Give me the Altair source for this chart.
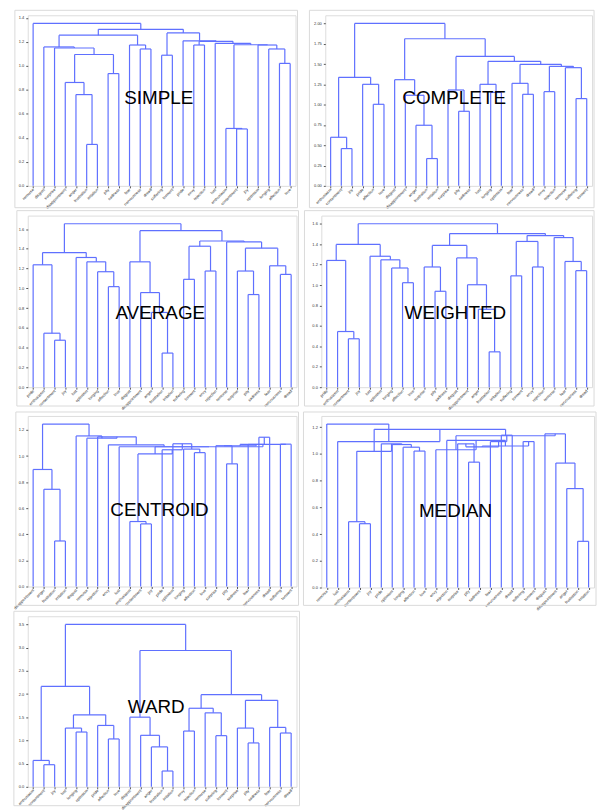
import json
import altair as alt
import pandas as pd

# ---------------------------------------------------------------------------
# Leaf orders and merge lists for each linkage method.
# A merge is (left, right, height); left/right are a leaf name or the index
# of an earlier merge in the same list.
# ---------------------------------------------------------------------------

SIMPLE_LEAVES = ["remorse", "disgust", "surprise", "disappointment", "anger",
                 "frustration", "irritation", "pity", "sadness", "fear",
                 "nervousness", "dread", "suffering", "torment", "pride", "envy",
                 "rejection", "lust", "enthusiasm", "contentment", "joy",
                 "optimism", "longing", "affection", "love"]
SIMPLE_MERGES = [
    ("frustration", "irritation", 0.345),   # 0
    ("anger", 0, 0.760),                    # 1
    ("disappointment", 1, 0.861),           # 2
    ("pity", "sadness", 0.935),             # 3
    (2, 3, 1.094),                          # 4
    ("surprise", 4, 1.148),                 # 5
    ("disgust", 5, 1.157),                  # 6
    ("nervousness", "dread", 1.140),        # 7
    ("fear", 7, 1.173),                     # 8
    (6, 8, 1.255),                          # 9
    ("suffering", "torment", 1.088),        # 10
    ("envy", "rejection", 1.173),           # 11
    ("contentment", "joy", 0.474),          # 12
    ("enthusiasm", 12, 0.478),              # 13
    ("affection", "love", 1.020),           # 14
    ("longing", 14, 1.140),                 # 15
    ("optimism", 15, 1.173),                # 16
    (13, 16, 1.175),                        # 17
    ("lust", 17, 1.187),                    # 18
    (11, 18, 1.204),                        # 19
    ("pride", 19, 1.208),                   # 20
    (10, 20, 1.274),                        # 21
    (9, 21, 1.304),                         # 22
    ("remorse", 22, 1.353),                 # 23
]

COMPLETE_LEAVES = ["enthusiasm", "contentment", "joy", "pride", "affection", "love",
                   "disgust", "disappointment", "anger", "frustration", "irritation",
                   "surprise", "pity", "sadness", "lust", "longing", "optimism",
                   "fear", "nervousness", "dread", "envy", "rejection", "remorse",
                   "suffering", "torment"]
COMPLETE_MERGES = [
    ("contentment", "joy", 0.459),          # 0
    ("enthusiasm", 0, 0.598),               # 1
    ("affection", "love", 1.004),           # 2
    ("pride", 2, 1.250),                    # 3
    (1, 3, 1.336),                          # 4
    ("frustration", "irritation", 0.336),   # 5
    ("anger", 5, 0.746),                    # 6
    ("disappointment", 6, 1.115),           # 7
    ("disgust", 7, 1.307),                  # 8
    ("pity", "sadness", 0.918),             # 9
    ("surprise", 9, 1.180),                 # 10
    ("longing", "optimism", 1.150),         # 11
    ("lust", 11, 1.250),                    # 12
    ("nervousness", "dread", 1.127),        # 13
    ("fear", 13, 1.262),                    # 14
    ("envy", "rejection", 1.160),           # 15
    ("suffering", "torment", 1.074),        # 16
    ("remorse", 16, 1.455),                 # 17
    (15, 17, 1.471),                        # 18
    (14, 18, 1.496),                        # 19
    (12, 19, 1.533),                        # 20
    (10, 20, 1.594),                        # 21
    (8, 21, 1.811),                         # 22
    (4, 22, 2.000),                         # 23
]

AVERAGE_LEAVES = ["pride", "enthusiasm", "contentment", "joy", "lust", "optimism",
                  "longing", "affection", "love", "disgust", "disappointment",
                  "anger", "frustration", "irritation", "suffering", "torment",
                  "envy", "rejection", "remorse", "surprise", "pity", "sadness",
                  "fear", "nervousness", "dread"]
AVERAGE_MERGES = [
    ("contentment", "joy", 0.475),          # 0
    ("enthusiasm", 0, 0.546),               # 1
    ("pride", 1, 1.238),                    # 2
    ("affection", "love", 1.017),           # 3
    ("longing", 3, 1.168),                  # 4
    ("optimism", 4, 1.268),                 # 5
    ("lust", 5, 1.312),                     # 6
    (2, 6, 1.362),                          # 7
    ("frustration", "irritation", 0.345),   # 8
    ("anger", 8, 0.756),                    # 9
    ("disappointment", 9, 0.957),           # 10
    ("disgust", 10, 1.268),                 # 11
    ("suffering", "torment", 1.091),        # 12
    ("envy", "rejection", 1.175),           # 13
    (12, 13, 1.426),                        # 14
    ("pity", "sadness", 0.937),             # 15
    ("surprise", 15, 1.175),                # 16
    ("nervousness", "dread", 1.141),        # 17
    ("fear", 17, 1.228),                    # 18
    (16, 18, 1.406),                        # 19
    ("remorse", 19, 1.469),                 # 20
    (14, 20, 1.479),                        # 21
    (11, 21, 1.583),                        # 22
    (7, 22, 1.653),                         # 23
]

WEIGHTED_LEAVES = ["pride", "enthusiasm", "contentment", "joy", "lust", "optimism",
                   "longing", "affection", "love", "surprise", "pity", "sadness",
                   "disgust", "disappointment", "anger", "frustration", "irritation",
                   "suffering", "torment", "envy", "rejection", "remorse", "fear",
                   "nervousness", "dread"]
WEIGHTED_MERGES = [
    ("contentment", "joy", 0.474),          # 0
    ("enthusiasm", 0, 0.545),               # 1
    ("pride", 1, 1.241),                    # 2
    ("affection", "love", 1.023),           # 3
    ("longing", 3, 1.167),                  # 4
    ("optimism", 4, 1.247),                 # 5
    ("lust", 5, 1.282),                     # 6
    (2, 6, 1.398),                          # 7
    ("pity", "sadness", 0.939),             # 8
    ("surprise", 8, 1.177),                 # 9
    ("frustration", "irritation", 0.346),   # 10
    ("anger", 10, 0.763),                   # 11
    ("disappointment", 11, 1.003),          # 12
    ("disgust", 12, 1.266),                 # 13
    (9, 13, 1.388),                         # 14
    ("suffering", "torment", 1.090),        # 15
    ("envy", "rejection", 1.177),           # 16
    (15, 16, 1.427),                        # 17
    ("nervousness", "dread", 1.141),        # 18
    ("fear", 18, 1.231),                    # 19
    ("remorse", 19, 1.465),                 # 20
    (17, 20, 1.484),                        # 21
    (14, 21, 1.504),                        # 22
    (7, 22, 1.600),                         # 23
]

CENTROID_LEAVES = ["disappointment", "anger", "frustration", "irritation", "disgust",
                   "remorse", "rejection", "envy", "lust", "enthusiasm",
                   "contentment", "joy", "pride", "optimism", "longing", "affection",
                   "love", "surprise", "pity", "sadness", "fear", "nervousness",
                   "dread", "suffering", "torment"]
CENTROID_MERGES = [
    ("frustration", "irritation", 0.349),   # 0
    ("anger", 0, 0.745),                    # 1
    ("disappointment", 1, 0.897),           # 2
    ("contentment", "joy", 0.480),          # 3
    ("enthusiasm", 3, 0.498),               # 4
    ("affection", "love", 1.026),           # 5
    ("longing", 5, 1.053),                  # 6
    ("optimism", 6, 1.094),                 # 7
    ("pride", 7, 1.048),                    # 8
    (4, 8, 1.016),                          # 9
    ("pity", "sadness", 0.940),             # 10
    ("surprise", 10, 1.079),                # 11
    ("nervousness", "dread", 1.144),        # 12
    ("fear", 12, 1.089),                    # 13
    (11, 13, 1.079),                        # 14
    ("suffering", "torment", 1.091),        # 15
    (14, 15, 1.089),                        # 16
    (9, 16, 1.071),                         # 17
    ("lust", 17, 1.071),                    # 18
    ("envy", 18, 1.086),                    # 19
    ("rejection", 19, 1.147),               # 20
    ("remorse", 20, 1.137),                 # 21
    ("disgust", 21, 1.154),                 # 22
    (2, 22, 1.245),                         # 23
]

MEDIAN_LEAVES = ["remorse", "lust", "enthusiasm", "contentment", "joy", "pride",
                 "optimism", "longing", "affection", "love", "envy", "rejection",
                 "surprise", "pity", "sadness", "fear", "nervousness", "dread",
                 "suffering", "torment", "disgust", "disappointment", "anger",
                 "frustration", "irritation"]
MEDIAN_MERGES = [
    ("contentment", "joy", 0.478),          # 0
    ("enthusiasm", 0, 0.493),               # 1
    ("affection", "love", 1.022),           # 2
    ("longing", 2, 1.051),                  # 3
    ("optimism", 3, 1.071),                 # 4
    ("pride", 4, 1.076),                    # 5
    (1, 5, 1.020),                          # 6
    ("pity", "sadness", 0.939),             # 7
    ("surprise", 7, 1.076),                 # 8
    ("nervousness", "dread", 1.141),        # 9
    ("fear", 9, 1.093),                     # 10
    (8, 10, 1.054),                         # 11
    ("suffering", "torment", 1.093),        # 12
    (11, 12, 1.060),                        # 13
    ("rejection", 13, 1.102),               # 14
    ("envy", 14, 1.032),                    # 15
    ("frustration", "irritation", 0.346),   # 16
    ("anger", 16, 0.741),                   # 17
    ("disappointment", 17, 0.932),          # 18
    ("disgust", 18, 1.151),                 # 19
    (15, 19, 1.137),                        # 20
    (6, 20, 1.185),                         # 21
    ("lust", 21, 1.093),                    # 22
    ("remorse", 22, 1.224),                 # 23
]

WARD_LEAVES = ["enthusiasm", "contentment", "joy", "lust", "longing", "optimism",
               "pride", "affection", "love", "disgust", "disappointment", "anger",
               "frustration", "irritation", "envy", "rejection", "remorse",
               "suffering", "torment", "surprise", "pity", "sadness", "fear",
               "nervousness", "dread"]
WARD_MERGES = [
    ("contentment", "joy", 0.477),          # 0
    ("enthusiasm", 0, 0.569),               # 1
    ("longing", "optimism", 1.181),         # 2
    ("lust", 2, 1.266),                     # 3
    ("affection", "love", 1.032),           # 4
    ("pride", 4, 1.323),                    # 5
    (3, 5, 1.551),                          # 6
    (1, 6, 2.163),                          # 7
    ("frustration", "irritation", 0.341),   # 8
    ("anger", 8, 0.861),                    # 9
    ("disappointment", 9, 1.110),           # 10
    ("disgust", 10, 1.501),                 # 11
    ("envy", "rejection", 1.202),           # 12
    ("suffering", "torment", 1.103),        # 13
    ("remorse", 13, 1.594),                 # 14
    (12, 14, 1.693),                        # 15
    ("pity", "sadness", 0.946),             # 16
    ("surprise", 16, 1.266),                # 17
    ("nervousness", "dread", 1.160),        # 18
    ("fear", 18, 1.281),                    # 19
    (17, 19, 1.864),                        # 20
    (15, 20, 1.985),                        # 21
    (11, 21, 2.938),                        # 22
    (7, 22, 3.500),                         # 23
]

# y-axis tick values per method
SIMPLE_TICKS = [0.0, 0.2, 0.4, 0.6, 0.8, 1.0, 1.2, 1.4]
COMPLETE_TICKS = [0.0, 0.25, 0.5, 0.75, 1.0, 1.25, 1.5, 1.75, 2.0]
AVERAGE_TICKS = [0.0, 0.2, 0.4, 0.6, 0.8, 1.0, 1.2, 1.4, 1.6]
WEIGHTED_TICKS = [0.0, 0.2, 0.4, 0.6, 0.8, 1.0, 1.2, 1.4, 1.6]
CENTROID_TICKS = [0.0, 0.2, 0.4, 0.6, 0.8, 1.0, 1.2]
MEDIAN_TICKS = [0.0, 0.2, 0.4, 0.6, 0.8, 1.0, 1.2]
WARD_TICKS = [0.0, 0.5, 1.0, 1.5, 2.0, 2.5, 3.0, 3.5]

LINE_COLOR = "#5f70ff"
FONT = "Liberation Sans"


def link_segments(leaves, merges):
    """U-shaped link segments, leaves placed at 5, 15, 25, ..."""
    leaf_x = {name: 5 + 10 * i for i, name in enumerate(leaves)}
    nodes = []
    rows = []

    def node(ref):
        if isinstance(ref, str):
            return leaf_x[ref], 0.0
        return nodes[ref]

    for left, right, h in merges:
        xa, ha = node(left)
        xb, hb = node(right)
        rows.append((xa, ha, xa, h))
        rows.append((xa, h, xb, h))
        rows.append((xb, h, xb, hb))
        nodes.append(((xa + xb) / 2, h))
    return pd.DataFrame(rows, columns=["x", "y", "x2", "y2"])


def panel(name, leaves, merges, ticks, yfmt, w, h, tx, ty, frame):
    segs = link_segments(leaves, merges)
    ytop = max(m[2] for m in merges) * 1.05
    nleaf = len(leaves)
    label_expr = json.dumps(leaves) + "[round((datum.value - 5) / 10)]"

    x_axis = alt.Axis(values=[5 + 10 * i for i in range(nleaf)], labelExpr=label_expr,
                      labelAngle=-45, labelAlign="right", labelBaseline="middle",
                      labelFontSize=4, labelFont=FONT, labelColor="#333333",
                      labelPadding=1, tickSize=2, tickColor="#555555",
                      domain=False, grid=False, title=None, labelOverlap=False)
    y_axis = alt.Axis(values=ticks, format=yfmt, labelFontSize=4, labelFont=FONT,
                      labelColor="#333333", labelPadding=2, tickSize=2,
                      tickColor="#555555", domain=False, grid=False, title=None,
                      labelOverlap=False)

    links = alt.Chart(segs).mark_rule(color=LINE_COLOR, strokeWidth=1.2).encode(
        x=alt.X("x:Q", scale=alt.Scale(domain=[0, 10 * nleaf], nice=False, zero=False),
                axis=x_axis),
        y=alt.Y("y:Q", scale=alt.Scale(domain=[0, ytop], nice=False), axis=y_axis),
        x2="x2:Q",
        y2="y2:Q",
    )

    one = pd.DataFrame({"label": [name]})
    text = alt.Chart(one).mark_text(fontSize=19, font=FONT, color="black",
                                    baseline="middle", align="center").encode(
        x=alt.value(w * tx), y=alt.value(h * ty), text="label:N")

    fl, ft, fr, fb = frame
    border = alt.Chart(one).mark_rect(fillOpacity=0, stroke="#dadada",
                                      strokeWidth=1).encode(
        x=alt.value(-fl), x2=alt.value(w + fr), y=alt.value(-ft), y2=alt.value(h + fb))

    return alt.layer(border, links, text).properties(width=w, height=h)


p_simple = panel("SIMPLE", SIMPLE_LEAVES, SIMPLE_MERGES, SIMPLE_TICKS, ".1f",
                 270, 172, 0.489, 0.486, (13, 5, 2, 22))
p_complete = panel("COMPLETE", COMPLETE_LEAVES, COMPLETE_MERGES, COMPLETE_TICKS, ".2f",
                   269, 172, 0.483, 0.484, (16, 5, 2, 22))
p_average = panel("AVERAGE", AVERAGE_LEAVES, AVERAGE_MERGES, AVERAGE_TICKS, ".1f",
                  271, 173, 0.493, 0.566, (11, 5, 2, 19))
p_weighted = panel("WEIGHTED", WEIGHTED_LEAVES, WEIGHTED_MERGES, WEIGHTED_TICKS, ".1f",
                   273, 173, 0.495, 0.566, (17, 5, 2, 19))
p_centroid = panel("CENTROID", CENTROID_LEAVES, CENTROID_MERGES, CENTROID_TICKS, ".1f",
                   271, 172, 0.49, 0.55, (12, 4, 2, 19))
p_median = panel("MEDIAN", MEDIAN_LEAVES, MEDIAN_MERGES, MEDIAN_TICKS, ".1f",
                 275, 173, 0.492, 0.555, (18, 4, 2, 18))
p_ward = panel("WARD", WARD_LEAVES, WARD_MERGES, WARD_TICKS, ".1f",
               271, 172, 0.478, 0.535, (14, 5, 3, 19))

row1 = alt.hconcat(p_simple, p_complete, spacing=30, bounds="flush")
row2 = alt.hconcat(p_average, p_weighted, spacing=25, bounds="flush")
row3 = alt.hconcat(p_centroid, p_median, spacing=25, bounds="flush")

# with flush bounds the nested rows are stacked by the row pitch alone
chart = alt.vconcat(row1, row2, row3, p_ward, spacing=202, bounds="flush").properties(
    padding={"left": 12, "top": 6, "right": 3, "bottom": 2}
).configure_view(
    stroke="#b4b4b4", strokeWidth=1.3
).configure(background="white")

chart.save("out.html", embed_options={"renderer": "svg", "actions": False})
